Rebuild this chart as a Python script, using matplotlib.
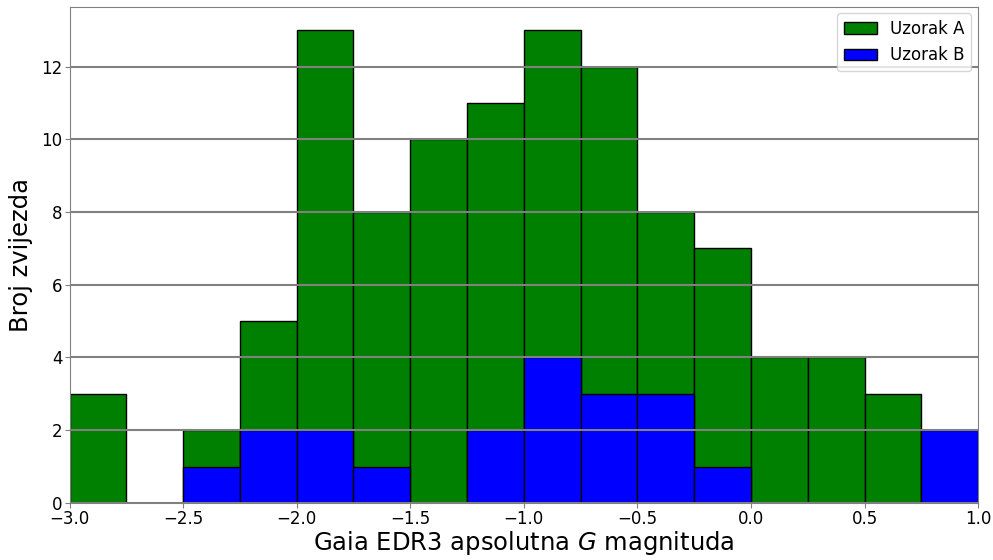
import numpy as np
import matplotlib.pyplot as plt

# bin edges of the magnitude histogram
bin_edges = np.arange(-3.0, 1.0001, 0.25)
counts_a = [3, 0, 2, 5, 13, 8, 10, 11, 13, 12, 8, 7, 4, 4, 3, 2]
counts_b = [0, 0, 1, 2, 2, 1, 0, 2, 4, 3, 3, 1, 0, 0, 0, 2]

fig, ax = plt.subplots(figsize=(9.93, 5.6), dpi=100)

ax.hist(bin_edges[:-1], bins=bin_edges, weights=counts_a, color='green',
        edgecolor='black', label='Uzorak A')
ax.hist(bin_edges[:-1], bins=bin_edges, weights=counts_b, color='blue',
        edgecolor='black', label='Uzorak B')

ax.set_xlim(-3, 1)
ax.set_axisbelow(False)
ax.yaxis.grid(True, color='gray', linewidth=1.5)

for s in ax.spines.values():
    s.set_color('gray')
ax.tick_params(labelsize=12, color='gray', pad=1.5)

ax.set_xlabel('Gaia EDR3 apsolutna $G$ magnituda', fontsize=17.5, labelpad=1)
ax.set_ylabel('Broj zvijezda', fontsize=17.5, labelpad=6)
ax.legend(fontsize=12, loc='upper right', borderaxespad=0.4)

fig.subplots_adjust(left=0.07, right=0.985, top=0.988, bottom=0.102)
fig.savefig('out.png')
